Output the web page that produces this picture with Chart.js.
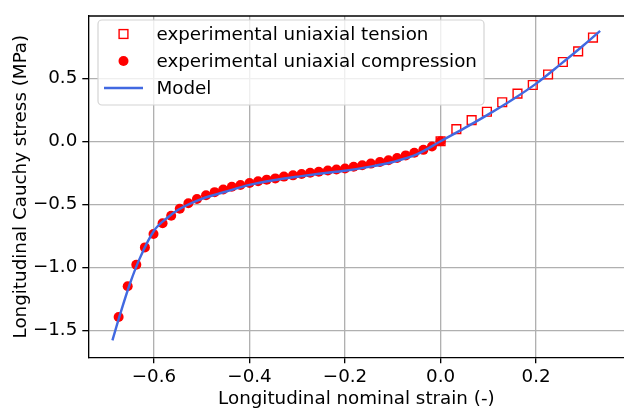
<!DOCTYPE html>
<html>
<head>
<meta charset="utf-8">
<script src="https://cdn.jsdelivr.net/npm/chart.js@4"></script>
<style>
  html, body { margin: 0; padding: 0; background: #fff; overflow: hidden; width: 624px; height: 410px; }
  #wrap { width: 632px; height: 410px; }
</style>
</head>
<body>
<div id="wrap"><canvas id="stressChart" width="632" height="410"></canvas></div>
<script>
// tension test points
const strainTension = [0, 0.033, 0.065, 0.097, 0.129, 0.161, 0.193, 0.225, 0.256, 0.288, 0.319];
const stressTension = [0, 0.096, 0.168, 0.234, 0.309, 0.378, 0.446, 0.529, 0.628, 0.713, 0.822];

// compression test points
const strainCompression = [
  -0.674, -0.655, -0.637, -0.619, -0.601, -0.582, -0.564, -0.546, -0.528, -0.510,
  -0.491, -0.473, -0.455, -0.437, -0.419, -0.400, -0.382, -0.364, -0.346, -0.328,
  -0.309, -0.291, -0.273, -0.255, -0.236, -0.218, -0.200, -0.182, -0.164, -0.146,
  -0.127, -0.109, -0.091, -0.073, -0.055, -0.036, -0.018, 0.000
];
const stressCompression = [
  -1.392, -1.149, -0.979, -0.841, -0.735, -0.650, -0.590, -0.535, -0.491, -0.457,
  -0.428, -0.403, -0.382, -0.361, -0.346, -0.330, -0.317, -0.304, -0.294, -0.280,
  -0.270, -0.260, -0.249, -0.241, -0.231, -0.224, -0.216, -0.202, -0.190, -0.177,
  -0.164, -0.151, -0.132, -0.112, -0.091, -0.068, -0.042, 0.000
];

// model curve
const strainModel = [-0.687, -0.67, -0.65, -0.63, -0.6, -0.57, -0.55, -0.5, -0.45, -0.4, -0.35, -0.3,
  -0.25, -0.2, -0.15, -0.1, -0.05, 0, 0.05, 0.1, 0.15, 0.2, 0.25, 0.3, 0.334];
const stressModel = [-1.578, -1.36, -1.125, -0.93, -0.709, -0.60, -0.545, -0.457, -0.40, -0.346, -0.309, -0.281,
  -0.255, -0.234, -0.203, -0.164, -0.104, 0, 0.104, 0.213, 0.329, 0.457, 0.607, 0.763, 0.875];

const xTicks = [-0.6, -0.4, -0.2, 0, 0.2];
const yTicks = [-1.5, -1.0, -0.5, 0, 0.5];

const FONT = "'DejaVu Sans', sans-serif";
const FS = 18.3;
const GRID = "#b0b0b0";

function toPoints(xs, ys) {
  return xs.map((x, i) => ({ x: x, y: ys[i] }));
}

function fmt(v) {
  return (v < 0 ? "\u2212" : "") + Math.abs(v).toFixed(1);
}

// matplotlib-like top spine + legend inside the axes
const extras = {
  id: "extras",
  afterDatasetsDraw(chart) {
    const ctx = chart.ctx;
    const a = chart.chartArea;
    ctx.save();
    ctx.strokeStyle = "#000";
    ctx.lineWidth = 1.33;
    ctx.beginPath();
    ctx.moveTo(a.left, a.top);
    ctx.lineTo(chart.width, a.top);
    ctx.stroke();

    // legend box
    const bx = 98, by = 20, bw = 386, bh = 85, r = 4;
    ctx.beginPath();
    ctx.roundRect(bx, by, bw, bh, r);
    ctx.fillStyle = "rgba(255,255,255,0.8)";
    ctx.fill();
    ctx.strokeStyle = "#d4d4d4";
    ctx.lineWidth = 1.2;
    ctx.stroke();

    const ds = chart.data.datasets;
    const rows = [34, 61, 88];
    ctx.font = FS + "px " + FONT;
    ctx.fillStyle = "#000";
    ctx.textBaseline = "middle";
    ds.forEach((d, i) => {
      const y = rows[i];
      if (d.showLine) {
        ctx.strokeStyle = d.borderColor;
        ctx.lineWidth = d.borderWidth;
        ctx.beginPath();
        ctx.moveTo(104, y);
        ctx.lineTo(143, y);
        ctx.stroke();
      } else if (d.pointStyle === "rect") {
        ctx.strokeStyle = d.borderColor;
        ctx.lineWidth = d.borderWidth;
        ctx.strokeRect(123.5 - 4.4, y - 4.4, 8.8, 8.8);
      } else {
        ctx.fillStyle = d.backgroundColor;
        ctx.beginPath();
        ctx.arc(123.5, y, 5, 0, Math.PI * 2);
        ctx.fill();
      }
      ctx.fillStyle = "#000";
      ctx.fillText(d.label, 156.5, y + 1);
    });
    ctx.restore();
  }
};

new Chart(document.getElementById("stressChart"), {
  type: "scatter",
  data: {
    datasets: [
      {
        label: "experimental uniaxial tension",
        data: toPoints(strainTension, stressTension),
        pointStyle: "rect",
        pointRadius: 6.2,
        backgroundColor: "rgba(0,0,0,0)",
        borderColor: "#ff0000",
        borderWidth: 1.4,
        order: 2
      },
      {
        label: "experimental uniaxial compression",
        data: toPoints(strainCompression, stressCompression),
        pointStyle: "circle",
        pointRadius: 5,
        backgroundColor: "#ff0000",
        borderColor: "#ff0000",
        borderWidth: 0,
        order: 1
      },
      {
        label: "Model",
        data: toPoints(strainModel, stressModel),
        showLine: true,
        pointRadius: 0,
        borderColor: "#4169e1",
        borderWidth: 2.4,
        cubicInterpolationMode: "monotone",
        order: 0
      }
    ]
  },
  options: {
    responsive: false,
    animation: false,
    events: [],
    layout: { padding: { top: 10, right: 0, left: 0, bottom: 0 } },
    plugins: {
      legend: { display: false },
      tooltip: { enabled: false }
    },
    scales: {
      x: {
        type: "linear",
        min: -0.7375,
        max: 0.3848,
        afterBuildTicks: s => { s.ticks = xTicks.map(v => ({ value: v })); },
        afterFit: s => { s.height = 52.7; },
        border: { color: "#000", width: 1.33 },
        grid: { color: GRID, lineWidth: 1.33, tickColor: "#000", tickLength: 6, tickWidth: 1.33 },
        ticks: {
          color: "#000",
          font: { family: FONT, size: FS },
          padding: 3,
          maxRotation: 0,
          callback: v => fmt(v)
        },
        title: {
          display: true,
          text: "Longitudinal nominal strain (-)",
          color: "#000",
          font: { family: FONT, size: FS },
          padding: { top: 0, bottom: 0 }
        }
      },
      y: {
        type: "linear",
        min: -1.712,
        max: 0.993,
        afterBuildTicks: s => { s.ticks = yTicks.map(v => ({ value: v })); },
        afterFit: s => { s.width = 88.3; },
        border: { color: "#000", width: 1.33 },
        grid: { color: GRID, lineWidth: 1.33, tickColor: "#000", tickLength: 6, tickWidth: 1.33 },
        ticks: {
          color: "#000",
          font: { family: FONT, size: FS },
          padding: 5,
          callback: v => fmt(v)
        },
        title: {
          display: true,
          text: "Longitudinal Cauchy stress (MPa)",
          color: "#000",
          font: { family: FONT, size: FS },
          padding: { top: 10, bottom: 0 }
        }
      }
    }
  },
  plugins: [extras]
});
</script>
</body>
</html>
